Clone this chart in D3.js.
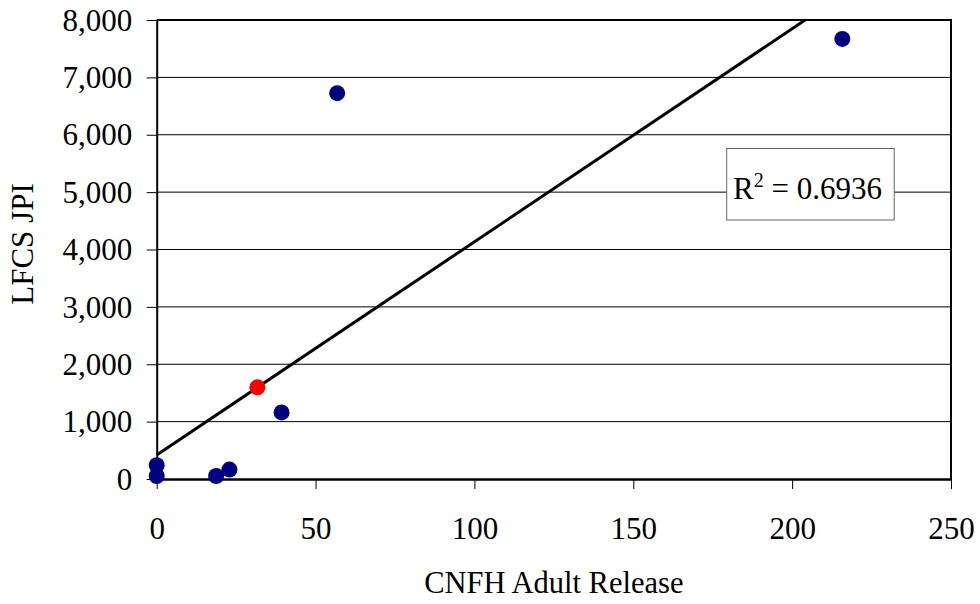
<!DOCTYPE html>
<html>
<head>
<meta charset="utf-8">
<script src="https://cdn.jsdelivr.net/npm/d3@7"></script>
<style>
  body { margin: 0; background: #fff; }
  svg { display: block; font-family: "Liberation Serif", "Times New Roman", serif; }
</style>
</head>
<body>
<svg width="980" height="604"></svg>
<script>
// CNFH adult releases vs LFCS juvenile production index
const releases = [0, 0, 18.7, 22.9, 31.7, 39.3, 56.8, 215.8];
const jpi = [240, 52, 52, 164, 1598, 1161, 6725, 7670];
const group = ["past", "past", "past", "past", "current", "past", "past", "past"];

const xTicks = [0, 50, 100, 150, 200, 250];
const yTicks = [0, 1000, 2000, 3000, 4000, 5000, 6000, 7000, 8000];
const r2Label = "0.6936";

const points = releases.map((r, i) => ({ x: r, y: jpi[i], group: group[i] }));

const plotLeft = 156.7, plotRight = 951, plotTop = 20, plotBottom = 479;

const xScale = d3.scaleLinear().domain([0, 250]).range([plotLeft, plotRight]);
const yScale = d3.scaleLinear().domain([0, 8000]).range([plotBottom, plotTop]);

const svg = d3.select('svg');

// gridlines
svg.append('g')
    .selectAll('line')
    .data(yTicks.filter(d => d > 0 && d < 8000))
    .enter()
    .append('line')
    .attr('x1', plotLeft)
    .attr('x2', plotRight)
    .attr('y1', d => yScale(d))
    .attr('y2', d => yScale(d))
    .attr('stroke', '#000')
    .attr('stroke-width', 1);

// top and right border
svg.append('path')
    .attr('d', `M${plotLeft},${yScale(8000)}H${plotRight}V${plotBottom}`)
    .attr('fill', 'none')
    .attr('stroke', '#000')
    .attr('stroke-width', 2);

// axes
const yAxis = svg.append('g')
    .attr('transform', `translate(${plotLeft},0)`)
    .call(d3.axisLeft(yScale).tickValues(yTicks).tickSize(10).tickSizeOuter(0).tickFormat(d3.format(',')));

yAxis.select('.domain').attr('stroke-width', 2);
yAxis.selectAll('.tick line').attr('stroke-width', 1);
yAxis.selectAll('text')
    .attr('x', -24.5)
    .attr('dy', '0.33em')
    .attr('fill', '#000')
    .style('font-size', '31px')
    .style('font-family', '"Liberation Serif", "Times New Roman", serif');

const xAxis = svg.append('g')
    .attr('transform', `translate(0,${plotBottom})`)
    .call(d3.axisBottom(xScale).tickValues(xTicks).tickSize(10).tickSizeOuter(0));

xAxis.select('.domain').attr('stroke-width', 2.5);
xAxis.selectAll('.tick line').attr('stroke-width', 1);
xAxis.selectAll('text')
    .attr('y', 60)
    .attr('dy', null)
    .attr('fill', '#000')
    .style('font-size', '31px')
    .style('font-family', '"Liberation Serif", "Times New Roman", serif');

// axis titles
svg.append('text')
    .attr('x', (plotLeft + plotRight) / 2)
    .attr('y', 593)
    .attr('text-anchor', 'middle')
    .style('font-size', '30.5px')
    .text('CNFH Adult Release');

svg.append('text')
    .attr('transform', 'translate(33,244) rotate(-90)')
    .attr('text-anchor', 'middle')
    .style('font-size', '31px')
    .text('LFCS JPI');

// linear trend fitted to the points
const mx = d3.mean(points, d => d.x);
const my = d3.mean(points, d => d.y);
const slope = d3.sum(points, d => (d.x - mx) * (d.y - my)) / d3.sum(points, d => (d.x - mx) ** 2);
const intercept = my - slope * mx;
const xEnd = Math.min(250, (8000 - intercept) / slope);

svg.append('line')
    .attr('x1', xScale(0))
    .attr('y1', yScale(intercept))
    .attr('x2', xScale(xEnd))
    .attr('y2', yScale(intercept + slope * xEnd))
    .attr('stroke', '#000')
    .attr('stroke-width', 3);

// points
svg.append('g')
    .selectAll('circle')
    .data(points)
    .enter()
    .append('circle')
    .attr('cx', d => xScale(d.x))
    .attr('cy', d => yScale(d.y))
    .attr('r', 8)
    .attr('fill', d => d.group === 'current' ? '#ff0000' : '#000080');

// R squared label
const box = svg.append('g');
box.append('rect')
    .attr('x', 726.7)
    .attr('y', 148.5)
    .attr('width', 167.5)
    .attr('height', 71.5)
    .attr('fill', '#fff')
    .attr('stroke', '#666')
    .attr('stroke-width', 1);

const label = box.append('text')
    .attr('x', 733)
    .attr('y', 198.5)
    .style('font-size', '31px');
label.append('tspan').text('R');
label.append('tspan').attr('dy', -12).style('font-size', '20px').text('2');
label.append('tspan').attr('dy', 12).text(' = ' + r2Label);
</script>
</body>
</html>
